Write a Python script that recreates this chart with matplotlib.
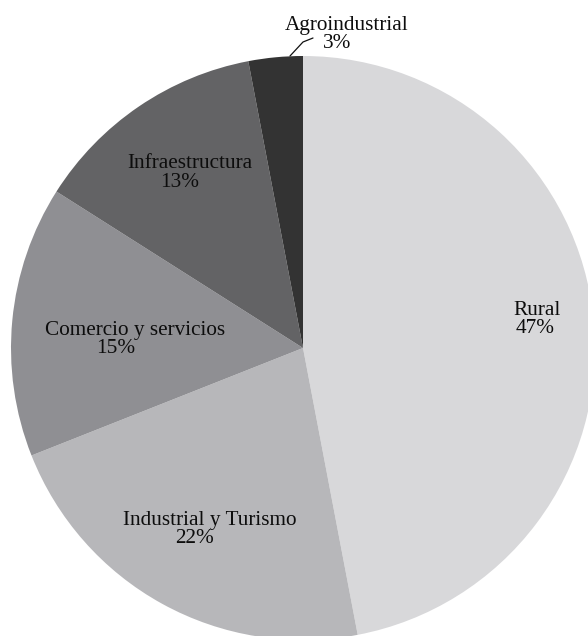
import matplotlib
matplotlib.use("Agg")
import matplotlib.pyplot as plt

# Distribution by sector (percent)
categories = ["Rural", "Industrial y Turismo", "Comercio y servicios",
              "Infraestructura", "Agroindustrial"]
values = [47, 22, 15, 13, 3]
colors = ["#d8d8da", "#b7b7ba", "#8f8f93", "#636365", "#333333"]

W, H = 588, 636
fig = plt.figure(figsize=(W / 100, H / 100), dpi=100)
ax = fig.add_axes([0, 0, 1, 1])

cx, cy, r = 303, H - 348, 292
ax.pie(values, colors=colors, startangle=90, counterclock=False,
       center=(cx, cy), radius=r, frame=True,
       wedgeprops=dict(linewidth=0, antialiased=True))
ax.set_xlim(0, W)
ax.set_ylim(0, H)
ax.set_aspect("equal")
ax.axis("off")

font = dict(family="Liberation Serif", fontsize=15.3, color="#0d0d0d")

# label placement (pixel coordinates, y measured from the top):
# (name_x, name_baseline, pct_x, pct_baseline)
label_pos = [
    (537, 315, 535, 333),
    (210, 525, 194, 543),
    (135, 335, 116, 353),
    (190, 168, 180, 187),
    (347, 30, 337, 48),
]

for name, v, (nx, ny, px, py) in zip(categories, values, label_pos):
    ax.text(nx, H - ny, name, ha="center", va="baseline", **font)
    ax.text(px, H - py, f"{v}%", ha="center", va="baseline", **font)

# leader line for the small slice
ax.plot([313, 303, 290], [H - 38, H - 42, H - 56], color="#111111",
        linewidth=0.9, solid_capstyle="round")

fig.savefig("out.png", dpi=100)
